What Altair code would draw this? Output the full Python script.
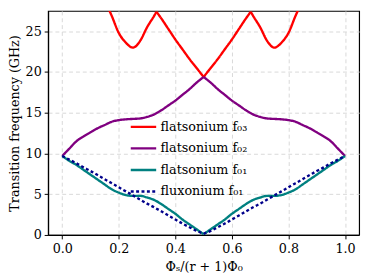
import altair as alt
import pandas as pd

# x positions (flux in units of (r+1)Phi0) for the f01/f02 curves
x_grid = [round(i * 0.025, 4) for i in range(41)]

flat_f01 = [9.7, 9.1, 8.6, 8.0, 7.4, 6.8, 6.2, 5.6, 5.2, 4.9, 4.8, 4.8, 4.6, 4.3, 3.8, 3.2, 2.6, 1.9, 1.3, 0.7, 0.1,
            0.7, 1.3, 1.9, 2.6, 3.2, 3.8, 4.3, 4.6, 4.8, 4.8, 4.9, 5.2, 5.6, 6.2, 6.8, 7.4, 8.0, 8.6, 9.1, 9.7]
flat_f02 = [9.7, 10.6, 11.5, 12.1, 12.6, 13.1, 13.5, 13.9, 14.1, 14.2, 14.25, 14.3, 14.5, 14.8, 15.3, 15.9, 16.5, 17.2, 17.9, 18.7, 19.4,
            18.7, 17.9, 17.2, 16.5, 15.9, 15.3, 14.8, 14.5, 14.3, 14.25, 14.2, 14.1, 13.9, 13.5, 13.1, 12.6, 12.1, 11.5, 10.6, 9.7]
flux_f01 = [9.7, 9.25, 8.8, 8.3, 7.85, 7.35, 6.85, 6.35, 5.85, 5.35, 4.85, 4.35, 3.85, 3.4, 2.9, 2.4, 1.9, 1.4, 0.95, 0.5, 0.15,
            0.5, 0.95, 1.4, 1.9, 2.4, 2.9, 3.4, 3.85, 4.35, 4.85, 5.35, 5.85, 6.35, 6.85, 7.35, 7.85, 8.3, 8.8, 9.25, 9.7]

f03_x = [0.125, 0.15, 0.175, 0.2, 0.225, 0.25, 0.275, 0.3, 0.325, 0.3333, 0.35, 0.375, 0.4, 0.425, 0.45, 0.475, 0.5,
         0.525, 0.55, 0.575, 0.6, 0.625, 0.65, 0.6667, 0.675, 0.7, 0.725, 0.75, 0.775, 0.8, 0.825, 0.85, 0.875]
f03_y = [30.7, 28.8, 26.9, 24.8, 23.6, 23.0, 23.8, 25.5, 26.9, 27.4, 26.6, 25.3, 24.0, 22.8, 21.6, 20.5, 19.4,
         20.5, 21.6, 22.8, 24.0, 25.3, 26.6, 27.4, 26.9, 25.5, 23.8, 23.0, 23.6, 24.8, 26.9, 28.8, 30.7]

labels = ["flatsonium f₀₃", "flatsonium f₀₂", "flatsonium f₀₁", "fluxonium f₀₁"]
colors = ["#ff0000", "#800080", "#008080", "#00008b"]
dashes = [[1, 0], [1, 0], [1, 0], [3, 2.5]]

rows = []


def add(name, order, xs, ys, cusps):
    seg = 0
    for x, y in zip(xs, ys):
        rows.append(dict(series=name, order=order, seg=f"{name}-{seg}", x=x, y=y))
        if any(abs(x - c) < 1e-3 for c in cusps):
            seg += 1
            rows.append(dict(series=name, order=order, seg=f"{name}-{seg}", x=x, y=y))


add(labels[0], 0, f03_x, f03_y, [0.3333, 0.5, 0.6667])
add(labels[1], 1, x_grid, flat_f02, [0.5])
add(labels[2], 2, x_grid, flat_f01, [0.5])
add(labels[3], 3, x_grid, flux_f01, [0.5])
df = pd.DataFrame(rows)

font = "DejaVu Serif"


def make_legend():
    return alt.Legend(orient="none", legendX=83, legendY=104, title=None,
                      symbolType="stroke", symbolSize=676, symbolStrokeWidth=2.5,
                      labelFont=font, labelFontSize=13, labelColor="black",
                      labelOffset=3, rowPadding=-9, padding=0)


chart = alt.Chart(df).mark_line(clip=True, strokeWidth=2.4, interpolate="monotone").encode(
    x=alt.X("x:Q", scale=alt.Scale(domain=[-0.05, 1.05], nice=False, zero=False),
            axis=alt.Axis(values=[0, 0.2, 0.4, 0.6, 0.8, 1.0], format=".1f",
                          title="Φₛ/(r + 1)Φ₀", labelPadding=4, titlePadding=5)),
    y=alt.Y("y:Q", scale=alt.Scale(domain=[0, 27.5], nice=False),
            axis=alt.Axis(values=[0, 5, 10, 15, 20, 25], title="Transition frequency (GHz)",
                          labelPadding=3, titlePadding=4)),
    color=alt.Color("series:N", scale=alt.Scale(domain=labels, range=colors), legend=make_legend()),
    strokeDash=alt.StrokeDash("series:N", scale=alt.Scale(domain=labels, range=dashes), legend=make_legend()),
    detail="seg:N",
    order="order:Q",
).properties(
    width=318, height=229,
    autosize=alt.AutoSizeParams(type="none"),
    padding={"left": 41, "top": 0, "right": 7, "bottom": 43},
).configure_view(
    stroke="black", strokeWidth=1.2
).configure_axis(
    domainColor="black", tickColor="black", tickSize=4, labelFont=font, labelFontSize=13,
    labelColor="black", titleFont=font, titleFontSize=13, titleFontWeight="normal",
    titleColor="black", gridDash=[4, 3], gridColor="#d8d8d8", domainWidth=1.2
)

chart.save("out.html", embed_options={"renderer": "svg", "actions": False})
